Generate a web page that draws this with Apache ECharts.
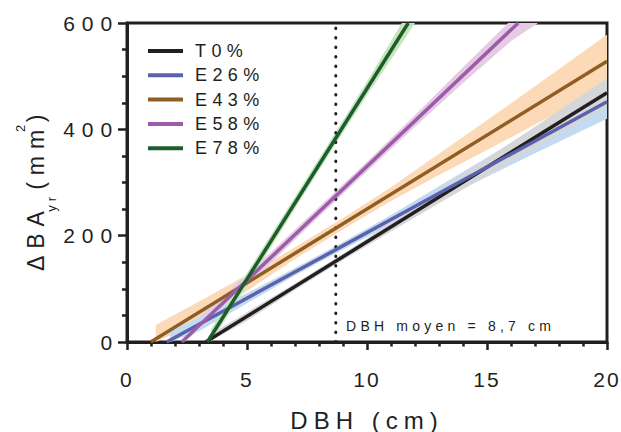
<!DOCTYPE html>
<html><head><meta charset="utf-8">
<script src="https://cdn.jsdelivr.net/npm/echarts@6/dist/echarts.min.js"></script>
<style>
html,body{margin:0;padding:0;background:#fff;}
#chart{width:621px;height:432px;}
#chart text[style*="21px"]{letter-spacing:0.33em;}
#chart text[text-anchor="middle"][style*="21px"]{letter-spacing:0.1em;}
#chart text[style*="18px"]{letter-spacing:0.3em;}
#chart text[style*="14px"]{letter-spacing:0.3em;}
#chart text[style*="24px"]{letter-spacing:0.25em;}
#chart text[style*="23px"]{letter-spacing:0.3em;}
#chart text[style*="13px"]{letter-spacing:0.3em;}
</style></head><body><div id="chart"></div>
<script>
// ---- data ----
const seriesNames = ['T0%', 'E26%', 'E43%', 'E58%', 'E78%'];
const lineColors = ['#231f20', '#5a62ad', '#8f5e22', '#9b5ca8', '#1b5e2c'];
const bandColors = ['#d5d6d8', '#c4daf0', '#fcd9b7', '#e6cbe4', '#c8e4bc'];

// fitted regression lines [DBH (cm), ΔBAyr (mm²)]
const lineT0  = [[3.28, 0], [20, 469]];
const lineE26 = [[1.65, 0], [20, 452]];
const lineE43 = [[0.99, 0], [20, 528]];
const lineE58 = [[2.28, 0], [16.3, 600]];
const lineE78 = [[3.35, 0], [11.72, 600]];

// confidence bands: upper and lower edges [DBH, ΔBAyr]
const bandUpT0 = [[3.4, 12], [5, 56], [7, 110], [9, 166], [11, 225], [13, 285], [15, 345], [17, 405], [20, 496]];
const bandLoT0 = [[3.4, 0], [5, 40], [7, 98], [9, 154], [11, 208], [13, 261], [15, 313], [17, 365], [20, 442]];

const bandUpE26 = [[1.8, 20], [3, 46], [5, 92], [7, 139], [9, 188], [11, 239], [13, 293], [15, 347], [17, 401], [20, 484]];
const bandLoE26 = [[1.8, 0], [3, 20], [5, 73], [7, 125], [9, 174], [11, 221], [13, 266], [15, 311], [17, 355], [20, 420]];

const bandUpE43 = [[1.2, 32], [3, 76], [5, 126], [7, 178], [9, 233], [11, 291], [13, 354], [15, 417], [17, 481], [20, 578]];
const bandLoE43 = [[1.2, 0], [3, 36], [5, 96], [7, 156], [9, 212], [11, 265], [13, 314], [15, 361], [17, 409], [20, 478]];

const bandUpE58 = [[2.4, 22], [4, 87], [6, 169], [8, 254], [10, 339], [12, 427], [14, 517], [15.88, 600]];
const bandLoE58 = [[2.4, 0], [4, 61], [6, 149], [8, 236], [10, 321], [12, 405], [14, 487], [16, 566], [17.13, 600]];

const bandUpE78 = [[3.5, 24], [5, 130], [7, 273], [8.7, 395], [10, 490], [11.45, 600]];
const bandLoE78 = [[3.5, 0], [5, 106], [7, 251], [8.7, 373], [10, 464], [11.5, 565], [12.0, 600]];

const meanDBH = 8.7;
const meanLine = [[meanDBH, 0], [meanDBH, 600]];
const meanLabel = 'DBH moyen = 8,7 cm';

const xTicks = {min: 0, max: 20, interval: 5};
const yTicks = {min: 0, max: 600, interval: 200};

// ---- chart ----
const chart = echarts.init(document.getElementById('chart'), null, {renderer: 'svg'});
const ink = '#231f20';
const font = 'Liberation Sans, Arial, sans-serif';

function band(up, lo, color) {
  return {
    type: 'custom', coordinateSystem: 'cartesian2d', data: [up[0]], encode: {x: 0, y: 1},
    z: 1, silent: true,
    renderItem: function (params, api) {
      const pts = up.concat(lo.slice().reverse()).map(p => api.coord(p));
      return {type: 'polygon', shape: {points: pts}, style: {fill: color}};
    }
  };
}
function fit(i, data) {
  return {type: 'line', name: seriesNames[i], data: data, symbol: 'none', color: lineColors[i],
          itemStyle: {color: lineColors[i]},
          lineStyle: {color: lineColors[i], width: 3.5}, z: 3};
}

const series = [
  band(bandUpE43, bandLoE43, bandColors[2]),
  band(bandUpE58, bandLoE58, bandColors[3]),
  band(bandUpE26, bandLoE26, bandColors[1]),
  band(bandUpT0, bandLoT0, bandColors[0]),
  band(bandUpE78, bandLoE78, bandColors[4]),
  {type: 'line', name: 'mean', data: meanLine, symbol: 'none', z: 2, silent: true,
   lineStyle: {color: ink, width: 3, type: [0.5, 9], cap: 'round'}},
  {type: 'custom', coordinateSystem: 'cartesian2d', data: [[meanDBH, 0]], encode: {x: 0, y: 1},
   z: 2, silent: true,
   renderItem: function (params, api) {
     const p = api.coord([api.value(0), api.value(1)]);
     return {type: 'text', x: p[0] + 10.3, y: p[1] - 15.6,
             style: {text: meanLabel, fill: ink, fontSize: 14, fontFamily: font,
                     textAlign: 'left', textVerticalAlign: 'middle'}};
   }},
  fit(0, lineT0), fit(1, lineE26), fit(2, lineE43), fit(3, lineE58), fit(4, lineE78)
];

chart.setOption({
  animation: false,
  textStyle: {fontFamily: font, color: ink},
  grid: {left: 127, right: 14, top: 23, bottom: 90, show: true, borderWidth: 3, borderColor: ink,
         backgroundColor: 'transparent', containLabel: false, outerBoundsMode: 'none'},
  legend: {
    data: seriesNames.map(n => ({name: n, icon: 'rect'})),
    orient: 'vertical', left: 143, top: 37, itemWidth: 35, itemHeight: 4, itemGap: 6.3,
    textStyle: {fontSize: 18, color: ink, fontFamily: font, padding: [0, 0, 0, 7]}
  },
  xAxis: {
    type: 'value', min: xTicks.min, max: xTicks.max, interval: xTicks.interval,
    name: 'DBH (cm)', nameLocation: 'middle', nameGap: 66,
    nameTextStyle: {fontSize: 24, color: ink, fontFamily: font},
    axisLine: {lineStyle: {color: ink, width: 3}},
    axisTick: {length: 8, lineStyle: {color: ink, width: 2.5}},
    minorTick: {show: true, splitNumber: 5, length: 4.5, lineStyle: {color: ink, width: 2.5}},
    splitLine: {show: false},
    axisLabel: {fontSize: 21, color: ink, margin: 27, fontFamily: font}
  },
  yAxis: {
    type: 'value', min: yTicks.min, max: yTicks.max, interval: yTicks.interval,
    name: '{a|ΔBA}{s|yr}{a| (mm}{p|2}{a|)}', nameLocation: 'middle', nameGap: 69, nameRotate: 90,
    nameTextStyle: {
      fontFamily: font, color: ink,
      rich: {
        a: {fontSize: 23, lineHeight: 44, verticalAlign: 'middle', padding: [0, 6.9, 0, 0], fontFamily: font, color: ink},
        s: {fontSize: 13, lineHeight: 28, verticalAlign: 'bottom', padding: [0, 7.8, 0, 0], fontFamily: font, color: ink},
        p: {fontSize: 13, lineHeight: 13, verticalAlign: 'top', padding: [0, 3.9, 0, 0], fontFamily: font, color: ink}
      }
    },
    axisLine: {lineStyle: {color: ink, width: 3}},
    axisTick: {length: 9, lineStyle: {color: ink, width: 2.5}},
    minorTick: {show: true, splitNumber: 4, length: 5, lineStyle: {color: ink, width: 2.5}},
    splitLine: {show: false},
    axisLabel: {fontSize: 21, color: ink, margin: 8, fontFamily: font, padding: [8, 0, 0, 0]}
  },
  series: series
});
</script></body></html>
